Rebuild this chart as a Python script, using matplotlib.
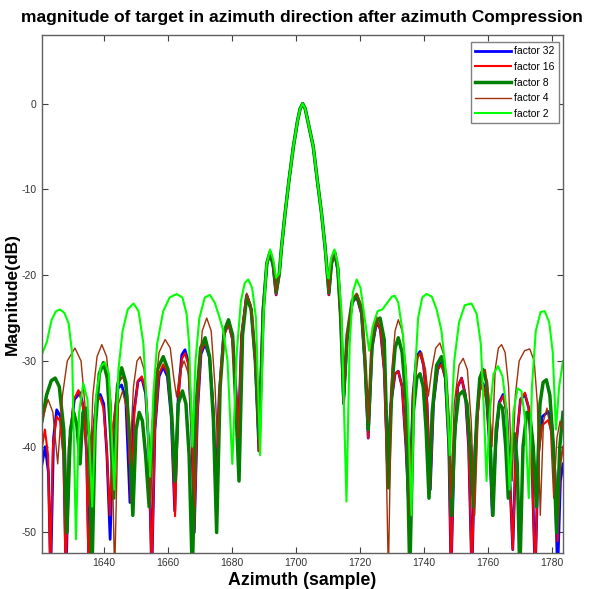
import numpy as np
import matplotlib
matplotlib.use("Agg")
import matplotlib.pyplot as plt

plt.rcParams['font.family'] = ['Liberation Sans', 'DejaVu Sans']
plt.rcParams['axes.unicode_minus'] = False

# main lobe, shared by all factors (sample, dB)
main_lobe = [(1694.8, -19.8), (1695.5, -16.7), (1696.6, -12.8), (1697.8, -9.0), (1699.2, -5.0),
             (1700.5, -2.0), (1701.3, -0.6), (1702.1, 0.0), (1702.9, -0.6), (1703.7, -2.0),
             (1705.4, -5.0), (1706.7, -9.0), (1708.0, -12.8), (1709.1, -16.7), (1709.8, -19.8)]

# factor 2 (lime)
f2_left = [(1620.6, -29.2), (1622.1, -27.8), (1623.6, -25.2), (1625.0, -24.2), (1626.2, -24.0), (1627.6, -24.4),
           (1628.9, -25.6), (1630.0, -29.0), (1631.2, -50.8), (1632.2, -36), (1633.5, -32.6), (1634.8, -34.5),
           (1636.3, -47), (1637.5, -34), (1639.0, -30.6), (1640.3, -30.2), (1641.5, -31.5), (1643.2, -45),
           (1644.5, -31), (1645.8, -26.5), (1647.4, -24.0), (1649.2, -23.3), (1650.8, -24.2), (1652.3, -28),
           (1653.3, -35), (1654.4, -43.5), (1655.4, -34), (1656.6, -28), (1658.5, -24.2), (1660.5, -22.6),
           (1662.7, -22.2), (1664.5, -22.6), (1665.8, -24.5), (1666.6, -28), (1667.6, -40), (1668.6, -30),
           (1669.8, -25), (1671.5, -22.6), (1673.1, -22.3), (1674.6, -23.2), (1676.0, -24.8), (1677.3, -26.5),
           (1678.6, -30), (1680.1, -42), (1681.5, -29), (1682.8, -23), (1684.0, -20.9), (1685.1, -20.5),
           (1686.3, -21.5), (1687.5, -25), (1688.8, -41), (1689.8, -25), (1690.8, -18.8), (1691.9, -17.0),
           (1692.9, -18.2), (1693.8, -20.3)]
f2_right = [(1710.2, -20.4), (1711.0, -18.0), (1712.0, -17.0), (1713.0, -18.5), (1714.2, -24), (1715.8, -46.4),
            (1716.8, -28), (1717.8, -22), (1719.0, -20.5), (1720.2, -21.5), (1721.5, -25), (1722.9, -28.8),
            (1724.0, -26), (1725.5, -24.2), (1727.0, -24.0), (1728.6, -23.2), (1730.0, -22.5), (1730.9, -22.4),
            (1732.0, -23.2), (1733.5, -27), (1735.0, -35), (1736.1, -48), (1737.0, -33), (1738.2, -25),
            (1739.5, -22.6), (1740.8, -22.2), (1742.5, -22.5), (1744.0, -24), (1745.5, -26.5), (1746.8, -31),
            (1748.1, -41), (1749.5, -30), (1751.0, -25.5), (1752.8, -23.5), (1754.9, -23.3), (1756.5, -24.5),
            (1757.8, -28), (1758.8, -36), (1759.6, -44), (1760.6, -36), (1761.8, -31.5), (1763.2, -30.6),
            (1764.6, -31.8), (1765.8, -35.5), (1766.8, -45), (1768.0, -36), (1769.3, -33.2), (1770.5, -33.5),
            (1771.7, -37), (1772.8, -46), (1773.8, -33), (1775.0, -26.5), (1776.5, -24.3), (1777.8, -24.2),
            (1779.2, -25.5), (1780.3, -29), (1781.3, -38), (1782.3, -33), (1783.5, -30)]

# factor 4 (brown)
f4_left = [(1620.6, -37), (1622.5, -34.5), (1624.0, -36), (1625.5, -42), (1627.0, -34), (1628.5, -30),
           (1630.9, -28.5), (1632.8, -30), (1634.0, -35), (1635.3, -47), (1636.5, -34), (1637.8, -29.5),
           (1639.3, -28.1), (1640.8, -29.5), (1642.2, -35), (1643.3, -55), (1644.5, -35), (1645.8, -33.5),
           (1647.0, -35.5), (1648.0, -42), (1649.2, -33), (1650.3, -30), (1651.3, -29.5), (1652.5, -31),
           (1653.6, -36), (1654.5, -47), (1655.5, -35), (1657.2, -29), (1659.1, -27.5), (1660.7, -28.5),
           (1661.8, -32), (1662.7, -34.2), (1663.6, -31.5), (1665.0, -30.0), (1666.4, -31.5), (1667.5, -37),
           (1668.4, -47), (1669.4, -33), (1670.7, -26.5), (1672.1, -25.0), (1673.5, -26.5), (1674.7, -33),
           (1675.5, -40), (1676.5, -31), (1677.7, -27), (1678.9, -25.8), (1680.0, -27.5), (1681.2, -33),
           (1682.0, -39), (1683.0, -26.5), (1684.6, -22.1), (1686.0, -23.5), (1687.4, -30), (1688.6, -40),
           (1689.8, -24), (1690.9, -18.5), (1691.9, -17.2), (1692.9, -18.6), (1693.8, -22.0)]
f4_right = [(1710.3, -22.0), (1711.1, -18.5), (1712.1, -17.2), (1713.1, -19), (1714.0, -25), (1714.9, -33.4),
            (1716.0, -27), (1717.6, -22.8), (1719.0, -22.1), (1720.5, -23.5), (1721.6, -29), (1722.6, -37.2),
            (1723.6, -28), (1725.2, -24.8), (1726.6, -26.5), (1727.8, -33), (1728.9, -55), (1730.0, -31),
            (1731.0, -26.5), (1732.0, -25.2), (1733.2, -26.5), (1734.5, -31), (1735.7, -48), (1736.8, -34),
            (1738.2, -29.5), (1739.3, -29.0), (1740.5, -31), (1741.4, -34.1), (1742.5, -31), (1743.7, -28.5),
            (1745.0, -27.9), (1746.4, -29.5), (1747.6, -35), (1748.5, -46), (1749.5, -35), (1751.0, -30.5),
            (1752.3, -29.7), (1753.6, -31), (1754.8, -37), (1755.9, -48), (1757.0, -36), (1758.2, -31.5),
            (1759.2, -31), (1760.3, -34), (1761.3, -40), (1762.3, -31), (1763.3, -28.5), (1764.3, -28.1),
            (1765.4, -29), (1766.5, -33), (1767.6, -44), (1768.6, -34), (1769.8, -30), (1771.5, -28.8),
            (1773.1, -28.6), (1774.5, -30), (1775.5, -35), (1776.4, -48), (1777.4, -37), (1778.5, -35.5),
            (1779.6, -38), (1780.6, -46), (1781.6, -39), (1782.6, -37), (1783.5, -38)]

# factor 8 (dark green)
f8_left = [(1620.6, -37), (1622.0, -34), (1623.5, -32.3), (1624.7, -32.0), (1626.0, -33), (1627.4, -38),
           (1628.4, -50), (1629.5, -38), (1630.5, -36), (1631.5, -37.5), (1632.5, -42), (1633.4, -36),
           (1634.4, -35.5), (1635.4, -39), (1636.2, -55), (1637.2, -38), (1638.5, -31.5), (1639.8, -30.2),
           (1641.0, -32), (1642.0, -38), (1643.0, -46), (1644.2, -33), (1645.5, -30.8), (1646.8, -32.5),
           (1648.0, -39), (1649.0, -48), (1650.0, -38), (1651.0, -36), (1652.0, -37), (1653.0, -41),
           (1654.1, -47), (1655.2, -38), (1656.7, -31), (1658.5, -29.5), (1660.0, -31), (1661.2, -36.5),
           (1662.2, -44), (1663.2, -35), (1664.5, -33.5), (1665.6, -35), (1666.6, -41), (1667.6, -55),
           (1668.8, -35), (1670.2, -28.5), (1671.6, -27.3), (1673.0, -29.5), (1674.2, -37), (1675.2, -50),
           (1676.3, -33), (1677.6, -26.5), (1678.9, -25.2), (1680.2, -27), (1681.3, -36), (1682.2, -44),
           (1683.3, -27), (1684.6, -22.5), (1686.0, -24), (1687.3, -30), (1688.5, -39), (1689.8, -24),
           (1690.9, -18.6), (1691.9, -17.3), (1692.9, -18.8), (1693.8, -22.0)]
f8_right = [(1710.3, -22.0), (1711.1, -18.6), (1712.1, -17.3), (1713.1, -19.2), (1714.0, -25), (1714.9, -34),
            (1716.0, -27), (1717.6, -23), (1719.0, -22.3), (1720.5, -24), (1721.6, -30), (1722.6, -38),
            (1723.8, -28), (1725.0, -25.3), (1726.3, -25.0), (1727.6, -27.5), (1728.9, -44.8), (1730.0, -33),
            (1731.0, -28.5), (1732.0, -27.3), (1733.2, -29), (1734.5, -35), (1735.6, -55), (1736.7, -36),
            (1737.8, -32), (1738.8, -31.5), (1739.8, -33), (1740.7, -38), (1741.6, -46), (1742.6, -36),
            (1744.0, -30.5), (1745.5, -29.5), (1746.8, -31.5), (1747.8, -38), (1748.7, -48), (1749.7, -38),
            (1750.9, -34), (1752.3, -33.5), (1753.5, -35), (1754.5, -40), (1755.5, -47), (1756.5, -37),
            (1757.5, -32), (1758.5, -31.0), (1759.6, -32.5), (1760.6, -38), (1761.6, -48), (1762.6, -38),
            (1763.6, -35), (1764.6, -35.5), (1765.6, -40), (1766.4, -46), (1767.4, -40), (1768.4, -38.5),
            (1769.2, -42), (1770.0, -55), (1771.0, -40), (1772.2, -36), (1773.2, -36.5), (1774.2, -40),
            (1775.2, -47), (1776.3, -35), (1777.3, -32.5), (1778.3, -32.2), (1779.4, -34), (1780.5, -40),
            (1781.5, -50), (1782.5, -40), (1783.5, -36)]

# factor 16 (red)
f16_left = [(1620.6, -40), (1621.5, -38), (1622.5, -41), (1623.2, -55), (1624.0, -40), (1625.2, -36.5),
            (1626.3, -37), (1627.3, -41), (1628.0, -55), (1629.0, -40), (1630.5, -34.5), (1632.0, -33.4),
            (1633.3, -35), (1634.4, -40), (1635.2, -55), (1636.2, -40), (1637.5, -35), (1638.7, -34.2),
            (1639.8, -35.5), (1640.8, -40), (1641.8, -48), (1642.8, -38), (1644.3, -32.5), (1646.0, -31.8),
            (1647.3, -34), (1648.4, -46.4), (1649.5, -36), (1650.6, -32.3), (1651.8, -31.8), (1653.0, -33.5),
            (1654.0, -40), (1654.9, -55), (1655.9, -38), (1657.2, -31.5), (1658.5, -30.4), (1659.8, -31.5),
            (1661.0, -36), (1662.2, -48.1), (1663.3, -34), (1664.3, -29.8), (1665.3, -29.1), (1666.4, -30.5),
            (1667.4, -38), (1668.2, -50), (1669.2, -36), (1670.3, -29), (1671.6, -27.8), (1673.0, -29.5),
            (1674.2, -36), (1675.0, -46), (1676.0, -34), (1677.4, -27), (1678.9, -25.5), (1680.2, -27.5),
            (1681.2, -33), (1682.0, -38.6), (1683.0, -27), (1684.6, -22.3), (1686.0, -24), (1687.3, -30),
            (1688.4, -40.5), (1689.7, -24), (1690.9, -18.7), (1691.9, -17.4), (1692.9, -19), (1693.8, -22.3)]
f16_right = [(1710.3, -22.3), (1711.1, -18.7), (1712.1, -17.4), (1713.1, -19.5), (1714.0, -25), (1714.9, -35),
             (1716.0, -27.5), (1717.6, -23.2), (1719.0, -22.5), (1720.5, -24.5), (1721.6, -30.5), (1722.6, -39),
             (1723.8, -28.5), (1725.2, -25.5), (1726.4, -26.3), (1727.6, -31), (1728.6, -42), (1729.7, -35),
             (1731.0, -31.5), (1732.0, -31.2), (1733.2, -33), (1734.4, -40), (1735.4, -48), (1736.6, -34),
             (1737.7, -29.8), (1738.8, -29.1), (1739.9, -30.5), (1741.0, -35), (1742.0, -45), (1743.0, -35),
             (1744.3, -31), (1745.5, -30.4), (1746.7, -32), (1747.8, -40), (1748.5, -55), (1749.5, -40),
             (1750.6, -33), (1751.8, -32.0), (1753.0, -34), (1754.0, -40), (1755.0, -55), (1756.0, -40),
             (1757.3, -33.5), (1758.5, -32.8), (1759.6, -34.5), (1760.6, -40), (1761.4, -48), (1762.4, -40),
             (1763.6, -35), (1764.8, -34.1), (1765.9, -36), (1766.9, -44), (1767.8, -52), (1768.8, -40),
             (1770.2, -34.5), (1771.6, -33.7), (1772.8, -35.5), (1773.8, -42), (1774.8, -55), (1775.8, -41),
             (1777.0, -37.5), (1778.9, -36.9), (1780.0, -38.5), (1781.0, -43), (1781.8, -51), (1782.7, -42),
             (1783.5, -40)]

# factor 32 (blue)
f32_left = [(1620.6, -42), (1621.6, -40), (1622.6, -43), (1623.3, -55), (1624.2, -39), (1625.2, -35.7),
            (1626.4, -36.5), (1627.4, -41), (1628.1, -55), (1629.1, -40), (1630.7, -34.5), (1632.5, -33.7),
            (1633.6, -35.5), (1634.6, -41), (1635.3, -55), (1636.3, -40), (1637.6, -34.5), (1638.8, -33.9),
            (1639.9, -35), (1640.9, -41), (1641.9, -50.8), (1642.9, -38), (1644.3, -33.2), (1645.5, -32.8),
            (1646.8, -34.5), (1648.1, -46.5), (1649.3, -36), (1650.6, -32.4), (1651.8, -32.0), (1653.0, -33.8),
            (1654.0, -40), (1654.9, -55), (1655.9, -38), (1657.2, -31.8), (1658.5, -30.7), (1659.8, -31.8),
            (1661.0, -36.5), (1662.1, -47.5), (1663.2, -34), (1664.3, -29.3), (1665.3, -28.7), (1666.4, -30.2),
            (1667.4, -38), (1668.2, -50), (1669.2, -36), (1670.3, -29.2), (1671.6, -28), (1673.0, -29.6),
            (1674.2, -36), (1675.0, -46), (1676.0, -34), (1677.4, -27), (1678.9, -25.6), (1680.2, -27.5),
            (1681.2, -33), (1682.0, -38.6), (1683.0, -27), (1684.6, -22.3), (1686.0, -24), (1687.3, -30),
            (1688.4, -40.5), (1689.7, -24), (1690.9, -18.7), (1691.9, -17.4), (1692.9, -19), (1693.8, -22.3)]
f32_right = [(1710.3, -22.3), (1711.1, -18.7), (1712.1, -17.4), (1713.1, -19.5), (1714.0, -25), (1714.9, -35),
             (1716.0, -27.5), (1717.6, -23.2), (1719.0, -22.5), (1720.5, -24.5), (1721.6, -30.5), (1722.6, -39),
             (1723.8, -28.5), (1725.2, -25.5), (1726.4, -26.3), (1727.6, -31), (1728.6, -42), (1729.7, -35),
             (1731.0, -31.5), (1732.0, -31.2), (1733.2, -33), (1734.4, -40), (1735.4, -48), (1736.6, -34),
             (1737.7, -29.5), (1738.8, -28.9), (1739.9, -30.5), (1741.0, -35), (1742.0, -45), (1743.0, -35),
             (1744.3, -31), (1745.5, -30.2), (1746.7, -32), (1747.8, -40), (1748.5, -55), (1749.5, -40),
             (1750.6, -33), (1751.8, -32.0), (1753.0, -34), (1754.0, -40), (1755.0, -55), (1756.0, -40),
             (1757.3, -33.5), (1758.5, -32.6), (1759.6, -34.5), (1760.6, -40), (1761.4, -48), (1762.4, -40),
             (1763.6, -34.8), (1764.8, -33.9), (1765.9, -36), (1766.9, -44), (1767.8, -52), (1768.8, -40),
             (1770.2, -34.5), (1771.6, -33.9), (1772.8, -35.5), (1773.8, -42), (1774.8, -55), (1775.8, -41),
             (1777.0, -36.5), (1778.9, -35.9), (1780.0, -37.5), (1781.0, -43), (1781.8, -55), (1782.7, -44),
             (1783.5, -42)]

labels = ['factor 32', 'factor 16', 'factor 8', 'factor 4', 'factor 2']
series = [(f32_left, f32_right), (f16_left, f16_right), (f8_left, f8_right),
          (f4_left, f4_right), (f2_left, f2_right)]
colors = ['#0000ff', '#ff0000', '#007f00', '#a0320a', '#00ff00']
widths = [2.0, 1.5, 2.5, 1.0, 1.5]

fig = plt.figure(figsize=(6.0, 5.89), dpi=100)
ax = fig.add_axes([0.0695, 0.061, 0.8688, 0.8796])

for (left, right), lab, c, lw in zip(series, labels, colors, widths):
    pts = np.array(left + main_lobe + right)
    ax.plot(pts[:, 0], pts[:, 1], color=c, lw=lw, label=lab)

ax.set_xlim(1620.5, 1783.5)
ax.set_ylim(-52.4, 8)
ax.set_xticks(np.arange(1640, 1781, 20))
ax.set_yticks(np.arange(-50, 1, 10))
ax.tick_params(direction='in', top=True, right=True, length=4, width=0.8,
               labelsize=7.5, colors='#404040', labelcolor='#333333')
for sp in ax.spines.values():
    sp.set_color('#606060')
    sp.set_linewidth(1.0)

ax.set_title('magnitude of target in azimuth direction after azimuth Compression',
             fontsize=12.5, fontweight='bold', pad=9)
ax.set_xlabel('Azimuth (sample)', fontsize=12.8, fontweight='bold', labelpad=3)
ax.set_ylabel('Magnitude(dB)', fontsize=12.5, fontweight='bold')
ax.yaxis.set_label_coords(-0.042, 0.5)

leg = ax.legend(loc='upper right', bbox_to_anchor=(559 / 600, 1 - 42 / 589),
                bbox_transform=fig.transFigure, borderaxespad=0, fontsize=7.5,
                fancybox=False, framealpha=1, edgecolor='#808080',
                handlelength=3.5, handletextpad=0.3, labelspacing=0.55)
leg.get_frame().set_linewidth(1.0)

fig.savefig('out.png', dpi=100)
